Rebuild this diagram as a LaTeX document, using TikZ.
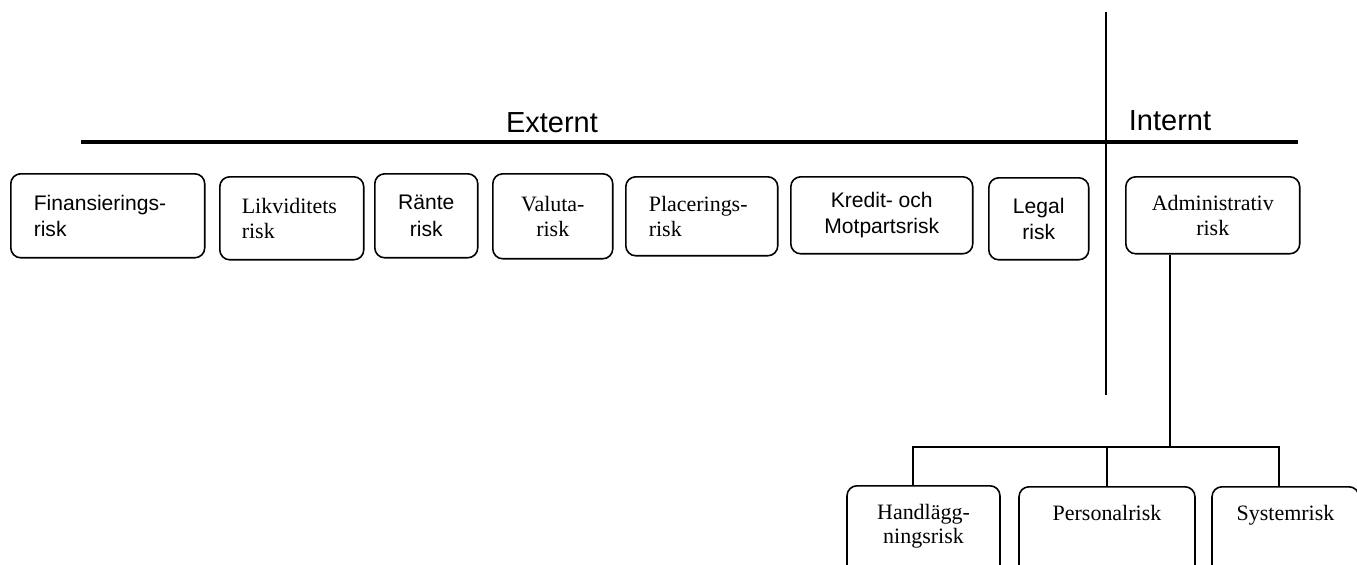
\documentclass[tikz,border=0pt]{standalone}
\usepackage{fontspec}
\newfontfamily\sansfnt{Liberation Sans}
\newfontfamily\seriffnt{Liberation Serif}
\usepackage{tikz}

\begin{document}
\begin{tikzpicture}[x=0.02cm,y=-0.02cm,
		riskbox/.style={draw,rounded corners=0.2cm,line width=0.9pt,inner sep=0pt,align=center,anchor=north west},
		lowbox/.style={riskbox,anchor=north,inner ysep=0.36cm,text depth=2cm},
		sanstext/.style={font=\sansfnt\fontsize{12}{15}\selectfont},
		seriftext/.style={font=\seriffnt\fontsize{12.5}{14}\selectfont},
		headtext/.style={font=\sansfnt\fontsize{16.5}{18}\selectfont,anchor=base},
		conn/.style={line width=1pt}]
		\useasboundingbox (0,0) rectangle (1357,565);
		\coordinate (lineL) at (81,142);
		\coordinate (lineR) at (1298,142);
		\coordinate (divtop) at (1106,12);
		\coordinate (divbot) at (1106,395);
		\draw[line width=2.3pt] (lineL) -- (lineR);
		\draw[conn] (divtop) -- (divbot);
		\node[headtext] (ext) at (552,132) {Externt};
		\node[headtext] (int) at (1170,130) {Internt};
		
		\node[riskbox,sanstext,align=left,minimum width=3.88cm,minimum height=1.68cm,text width=2.96cm] (fin) at (10,173) {Finansierings-\\risk};
		\node[riskbox,seriftext,align=left,minimum width=2.88cm,minimum height=1.66cm,text width=2cm] (likv) at (219,176) {Likviditets\\risk};
		\node[riskbox,sanstext,minimum width=2.06cm,minimum height=1.68cm] (rante) at (374,173) {Ränte\\risk};
		\node[riskbox,seriftext,minimum width=2.4cm,minimum height=1.7cm] (valuta) at (492,173) {Valuta-\\risk};
		\node[riskbox,seriftext,align=left,minimum width=3.04cm,minimum height=1.58cm,text width=2.12cm] (plac) at (625,176) {Placerings-\\risk};
		\node[riskbox,sanstext,minimum width=3.64cm,minimum height=1.54cm] (kredit) at (790,176) {Kredit- och\\Motpartsrisk};
		\node[riskbox,sanstext,minimum width=2cm,minimum height=1.64cm] (legal) at (988,177) {Legal\\risk};
		\node[riskbox,seriftext,minimum width=3.48cm,minimum height=1.54cm] (admin) at (1125,176) {Administrativ\\risk};
		
		\node[lowbox,seriftext,minimum width=3.06cm] (handl) at (923.5,485) {Handlägg-\\ningsrisk};
		\node[lowbox,seriftext,minimum width=3.52cm] (pers) at (1107,486) {Personalrisk};
		\node[lowbox,seriftext,minimum width=2.94cm] (syst) at (1285.5,486) {Systemrisk};
		
		\coordinate (fork) at (1170,447);
		\coordinate (forkL) at (913,447);
		\coordinate (forkR) at (1279,447);
		\draw[conn] (fork |- admin.south) -- (fork);
		\draw[conn] (forkL |- handl.north) -- (forkL) -- (forkR) -- (forkR |- syst.north);
		\draw[conn] (pers.north) -- (pers.north |- fork);
	\end{tikzpicture}
\end{document}
